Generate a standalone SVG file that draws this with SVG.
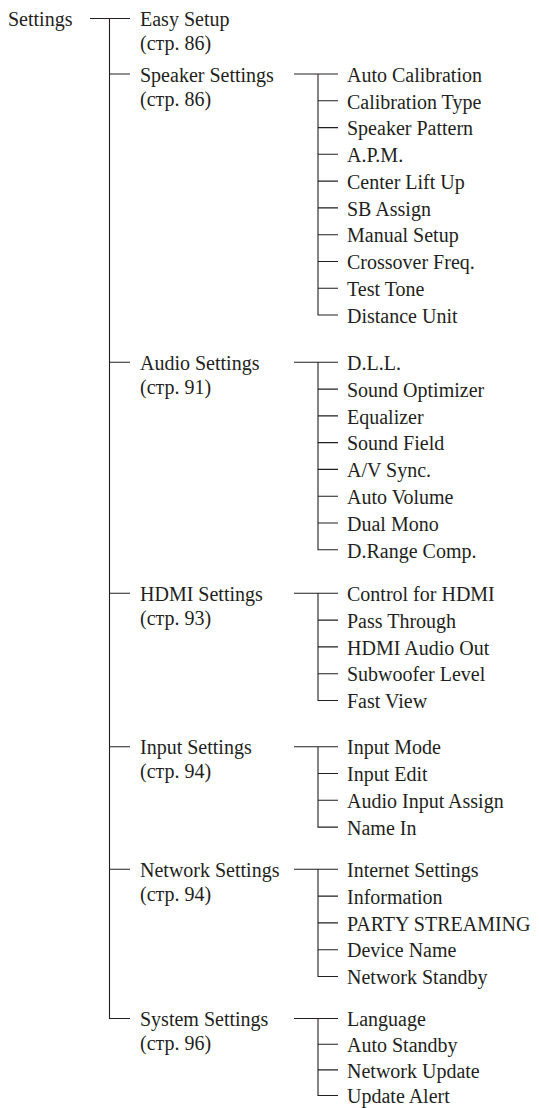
<svg xmlns="http://www.w3.org/2000/svg" width="539" height="1108" viewBox="0 0 539 1108">
<style>
text{font-family:"Liberation Serif","Times New Roman",serif;font-size:20px;fill:#231f20}
.c{fill:none;stroke:#231f20;stroke-width:1.1}
</style>
<rect width="539" height="1108" fill="#fff"/>
<g id="connectors" class="c">
<path d="M90 18.5H130M109.5 18.5V1018.5H130M109.5 74H130M109.5 362.3H130M109.5 593.3H130M109.5 746.7H130M109.5 869.3H130"/>
<path d="M294 74H338M318 74V315H338M318 100.8H338M318 127.6H338M318 154.3H338M318 181.1H338M318 207.9H338M318 234.7H338M318 261.5H338M318 288.2H338"/>
<path d="M294 362.3H338M318 362.3V549.8H338M318 389.1H338M318 415.9H338M318 442.6H338M318 469.4H338M318 496.2H338M318 523H338"/>
<path d="M294 593.3H338M318 593.3V700.5H338M318 620.1H338M318 646.9H338M318 673.7H338"/>
<path d="M294 746.7H338M318 746.7V827.1H338M318 773.5H338M318 800.3H338"/>
<path d="M294 869.3H338M318 869.3V976.5H338M318 896.1H338M318 922.9H338M318 949.7H338"/>
<path d="M294 1018.5H338M318 1018.5V1095.5H338M318 1044.2H338M318 1069.9H338"/>
</g>
<g id="root"><text x="8" y="26">Settings</text></g>
<g id="easy-setup"><text x="140" y="26">Easy Setup</text><text x="140" y="50">(стр. 86)</text></g>
<g id="speaker-settings"><text x="140" y="81.7">Speaker Settings</text><text x="140" y="105.7">(стр. 86)</text></g>
<g id="speaker-items">
<text x="347" y="81.7">Auto Calibration</text>
<text x="347" y="108.5">Calibration Type</text>
<text x="347" y="135.3">Speaker Pattern</text>
<text x="347" y="162">A.P.M.</text>
<text x="347" y="188.8">Center Lift Up</text>
<text x="347" y="215.6">SB Assign</text>
<text x="347" y="242.4">Manual Setup</text>
<text x="347" y="269.2">Crossover Freq.</text>
<text x="347" y="295.9">Test Tone</text>
<text x="347" y="322.7">Distance Unit</text>
</g>
<g id="audio-settings"><text x="140" y="370">Audio Settings</text><text x="140" y="394">(стр. 91)</text></g>
<g id="audio-items">
<text x="347" y="370">D.L.L.</text>
<text x="347" y="396.8">Sound Optimizer</text>
<text x="347" y="423.6">Equalizer</text>
<text x="347" y="450.3">Sound Field</text>
<text x="347" y="477.1">A/V Sync.</text>
<text x="347" y="503.9">Auto Volume</text>
<text x="347" y="530.7">Dual Mono</text>
<text x="347" y="557.5">D.Range Comp.</text>
</g>
<g id="hdmi-settings"><text x="140" y="601">HDMI Settings</text><text x="140" y="625">(стр. 93)</text></g>
<g id="hdmi-items">
<text x="347" y="601">Control for HDMI</text>
<text x="347" y="627.8">Pass Through</text>
<text x="347" y="654.6">HDMI Audio Out</text>
<text x="347" y="681.4">Subwoofer Level</text>
<text x="347" y="708.2">Fast View</text>
</g>
<g id="input-settings"><text x="140" y="754.4">Input Settings</text><text x="140" y="778.4">(стр. 94)</text></g>
<g id="input-items">
<text x="347" y="754.4">Input Mode</text>
<text x="347" y="781.2">Input Edit</text>
<text x="347" y="808">Audio Input Assign</text>
<text x="347" y="834.8">Name In</text>
</g>
<g id="network-settings"><text x="140" y="877">Network Settings</text><text x="140" y="901">(стр. 94)</text></g>
<g id="network-items">
<text x="347" y="877">Internet Settings</text>
<text x="347" y="903.8">Information</text>
<text x="347" y="930.6">PARTY STREAMING</text>
<text x="347" y="957.4">Device Name</text>
<text x="347" y="984.2">Network Standby</text>
</g>
<g id="system-settings"><text x="140" y="1026.2">System Settings</text><text x="140" y="1050.2">(стр. 96)</text></g>
<g id="system-items">
<text x="347" y="1026.2">Language</text>
<text x="347" y="1051.9">Auto Standby</text>
<text x="347" y="1077.6">Network Update</text>
<text x="347" y="1103.2">Update Alert</text>
</g>
</svg>
